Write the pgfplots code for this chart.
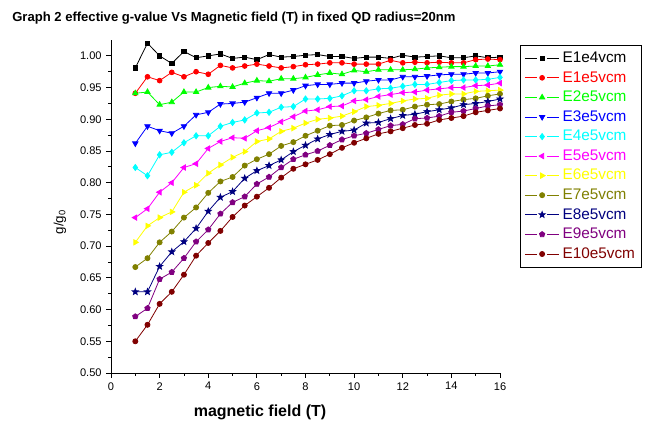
\documentclass[border=0pt]{standalone}
\usepackage{pgfplots}
\pgfplotsset{compat=1.18}
\usepackage{pgfplotstable}
\usepackage{fontspec}
\setmainfont{Liberation Sans}
\definecolor{cRed}{RGB}{255,0,0}
\definecolor{cGreen}{RGB}{0,255,0}
\definecolor{cBlue}{RGB}{0,0,255}
\definecolor{cCyan}{RGB}{0,255,255}
\definecolor{cMag}{RGB}{255,0,255}
\definecolor{cYel}{RGB}{255,255,0}
\definecolor{cOlive}{RGB}{128,128,0}
\definecolor{cNavy}{RGB}{0,0,128}
\definecolor{cPurp}{RGB}{128,0,128}
\definecolor{cWine}{RGB}{128,0,0}
\pgfdeclareplotmark{fstar}{%
 \pgfpathmoveto{\pgfpointpolar{90}{\pgfplotmarksize}}%
 \pgfpathlineto{\pgfpointpolar{126}{0.42\pgfplotmarksize}}%
 \pgfpathlineto{\pgfpointpolar{162}{\pgfplotmarksize}}%
 \pgfpathlineto{\pgfpointpolar{198}{0.42\pgfplotmarksize}}%
 \pgfpathlineto{\pgfpointpolar{234}{\pgfplotmarksize}}%
 \pgfpathlineto{\pgfpointpolar{270}{0.42\pgfplotmarksize}}%
 \pgfpathlineto{\pgfpointpolar{306}{\pgfplotmarksize}}%
 \pgfpathlineto{\pgfpointpolar{342}{0.42\pgfplotmarksize}}%
 \pgfpathlineto{\pgfpointpolar{18}{\pgfplotmarksize}}%
 \pgfpathlineto{\pgfpointpolar{54}{0.42\pgfplotmarksize}}%
 \pgfpathclose\pgfusepathqfillstroke}
\pgfplotstableread{
x a b c d e f g h i j k
1 0.981 0.941 0.941 0.862 0.824 0.745 0.706 0.667 0.628 0.589 0.550
1.5 1.020 0.967 0.943 0.889 0.811 0.759 0.732 0.681 0.628 0.602 0.576
2 1.000 0.961 0.923 0.882 0.844 0.785 0.745 0.706 0.668 0.648 0.609
2.5 0.988 0.974 0.927 0.878 0.848 0.800 0.754 0.723 0.691 0.659 0.628
3 1.007 0.967 0.943 0.889 0.863 0.824 0.785 0.745 0.707 0.681 0.655
3.5 0.997 0.975 0.943 0.907 0.874 0.830 0.796 0.761 0.728 0.707 0.685
4 1.000 0.971 0.950 0.911 0.874 0.854 0.815 0.784 0.755 0.726 0.705
4.5 1.003 0.985 0.952 0.924 0.889 0.865 0.828 0.802 0.777 0.751 0.724
5 0.996 0.981 0.951 0.925 0.895 0.871 0.840 0.809 0.786 0.769 0.746
5.5 0.998 0.984 0.957 0.927 0.899 0.870 0.849 0.827 0.807 0.778 0.764
6 0.994 0.987 0.961 0.934 0.910 0.882 0.865 0.837 0.819 0.798 0.778
6.5 1.002 0.984 0.960 0.941 0.911 0.887 0.869 0.845 0.827 0.809 0.792
7 0.998 0.981 0.964 0.941 0.919 0.896 0.881 0.858 0.836 0.824 0.808
7.5 0.999 0.983 0.964 0.946 0.920 0.904 0.886 0.864 0.849 0.837 0.822
8 1.001 0.986 0.966 0.953 0.932 0.913 0.894 0.874 0.859 0.844 0.829
8.5 1.002 0.987 0.970 0.955 0.932 0.915 0.900 0.882 0.869 0.850 0.836
9 0.999 0.989 0.973 0.955 0.933 0.920 0.902 0.890 0.876 0.859 0.845
9.5 0.999 0.989 0.971 0.957 0.937 0.921 0.905 0.891 0.881 0.868 0.855
10 0.996 0.987 0.977 0.957 0.945 0.929 0.912 0.898 0.883 0.874 0.863
10.5 0.998 0.987 0.975 0.960 0.945 0.931 0.920 0.903 0.894 0.878 0.870
11 0.998 0.987 0.978 0.962 0.948 0.936 0.922 0.909 0.895 0.884 0.877
11.5 0.996 0.993 0.978 0.962 0.949 0.939 0.925 0.914 0.901 0.890 0.881
12 1.001 0.989 0.978 0.967 0.952 0.942 0.929 0.915 0.906 0.892 0.886
12.5 0.998 0.990 0.979 0.967 0.955 0.943 0.932 0.920 0.908 0.901 0.891
13 0.999 0.989 0.981 0.968 0.955 0.946 0.933 0.923 0.912 0.902 0.893
13.5 1.000 0.990 0.982 0.970 0.958 0.948 0.938 0.924 0.915 0.905 0.899
14 0.997 0.989 0.983 0.971 0.961 0.950 0.940 0.928 0.918 0.911 0.902
14.5 0.997 0.989 0.983 0.971 0.962 0.950 0.940 0.931 0.923 0.913 0.905
15 1.000 0.994 0.984 0.973 0.962 0.953 0.944 0.933 0.925 0.917 0.911
15.5 0.997 0.995 0.984 0.973 0.963 0.954 0.945 0.937 0.928 0.921 0.914
16 0.998 0.994 0.986 0.975 0.966 0.957 0.946 0.940 0.932 0.923 0.917
}\data
\begin{document}
\begin{tikzpicture}
\path[use as bounding box] (0,0) rectangle (486.75pt,324.75pt);
\begin{axis}[
  at={(83.25pt,45pt)}, anchor=south west,
  scale only axis, width=291.75pt, height=249.75pt,
  xmin=0, xmax=16, ymin=0.5, ymax=1.025,
  axis x line*=bottom, axis y line*=left,
  axis line style={black, line width=0.6pt},
  xtick={0,2,4,6,8,10,12,14,16},
  ytick={0.50,0.55,0.60,0.65,0.70,0.75,0.80,0.85,0.90,0.95,1.00},
  minor x tick num=1, minor y tick num=1,
  tick align=outside,
  major tick length=3.5pt, minor tick length=2pt,
  tick style={black, line width=0.6pt},
  yticklabel style={/pgf/number format/fixed, /pgf/number format/fixed zerofill, /pgf/number format/precision=2},
  /pgf/number format/assume math mode=true,
  tick label style={font=\fontsize{8.3}{10}\selectfont},
  every axis plot/.append style={line width=0.6pt},
  legend style={at={(1.0514,0.985)}, anchor=north west, draw=black, line width=0.6pt,
    font=\fontsize{11.5}{13}\selectfont, row sep=1.2pt, inner xsep=3pt, inner ysep=3pt},
  legend cell align=left,
  legend image code/.code={%
    \draw[#1,mark=none] (0pt,0pt)--(9pt,0pt);
    \draw[#1,mark=none] (17pt,0pt)--(26pt,0pt);
    \draw[#1] plot coordinates {(13pt,0pt)};},
]
\addplot[black, mark=square*, mark size=1.6pt] table[x=x,y=a]{\data};
\addlegendentry{\textcolor{black}{E1e4vcm}}
\addplot[cRed, mark=*, mark size=1.8pt] table[x=x,y=b]{\data};
\addlegendentry{\textcolor{cRed}{E1e5vcm}}
\addplot[cGreen, mark=triangle*, mark size=2.3pt] table[x=x,y=c]{\data};
\addlegendentry{\textcolor{cGreen}{E2e5vcm}}
\addplot[cBlue, mark=triangle*, mark size=2.3pt, mark options={rotate=180}] table[x=x,y=d]{\data};
\addlegendentry{\textcolor{cBlue}{E3e5vcm}}
\addplot[cCyan, mark=diamond*, mark size=2.3pt] table[x=x,y=e]{\data};
\addlegendentry{\textcolor{cCyan}{E4e5vcm}}
\addplot[cMag, mark=triangle*, mark size=2.3pt, mark options={rotate=90}] table[x=x,y=f]{\data};
\addlegendentry{\textcolor{cMag}{E5e5vcm}}
\addplot[cYel, mark=triangle*, mark size=2.3pt, mark options={rotate=-90}] table[x=x,y=g]{\data};
\addlegendentry{\textcolor{cYel}{E6e5vcm}}
\addplot[cOlive, mark=*, mark size=1.9pt] table[x=x,y=h]{\data};
\addlegendentry{\textcolor{cOlive}{E7e5vcm}}
\addplot[cNavy, mark=fstar, mark size=2.4pt] table[x=x,y=i]{\data};
\addlegendentry{\textcolor{cNavy}{E8e5vcm}}
\addplot[cPurp, mark=pentagon*, mark size=2.1pt] table[x=x,y=j]{\data};
\addlegendentry{\textcolor{cPurp}{E9e5vcm}}
\addplot[cWine, mark=*, mark size=1.9pt] table[x=x,y=k]{\data};
\addlegendentry{\textcolor{cWine}{E10e5vcm}\hspace{6pt}}
\end{axis}
\node[anchor=base west, font=\fontsize{9.8}{12}\selectfont\bfseries, inner sep=0pt] at (9pt,308.25pt)
  {Graph 2 effective g-value Vs Magnetic field (T) in fixed QD radius=20nm};
\node[font=\fontsize{12}{14}\selectfont\bfseries, inner sep=0pt] at (195pt,15.75pt) {magnetic field (T)};
\node[rotate=90, font=\fontsize{10}{12}\selectfont, inner sep=0pt] at (45pt,158.25pt) {g/g\textsubscript{0}};
\end{tikzpicture}
\end{document}
